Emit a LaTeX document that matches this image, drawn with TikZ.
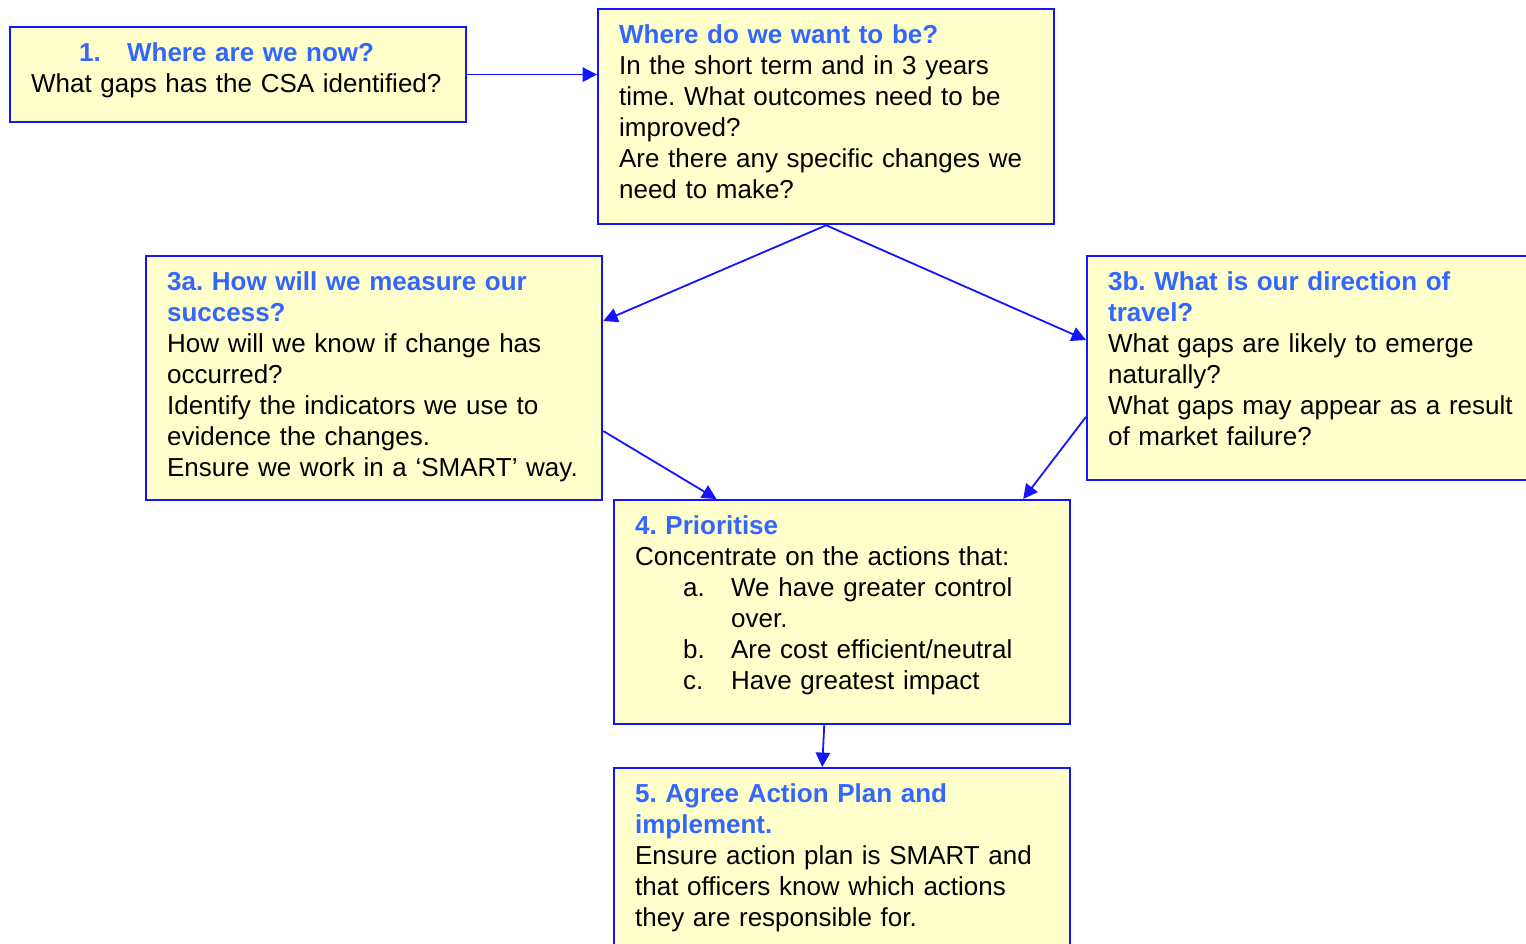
\documentclass[tikz,border=0pt]{standalone}
\usepackage{fontspec}
\setmainfont{Liberation Sans}
\usetikzlibrary{
	arrows.meta,
	positioning,
	calc,
}
\definecolor{panelfill}{RGB}{255,255,204}
\definecolor{panelline}{RGB}{20,20,255}
\definecolor{headblue}{RGB}{51,102,255}
\newcommand{\qhead}[1]{{\bfseries\color{headblue}#1}}
\frenchspacing
\hyphenpenalty=10000
\tikzset{panel/.style={
		% The shape:
		rectangle,anchor=north west,
		% The size:
		minimum width=202.67pt,text width=184pt,
		inner xsep=9.33pt,inner ysep=6.11pt,
		% The border and filling:
		line width=1pt,draw=panelline,fill=panelfill,
		% first line sits at the top, the rest hangs below
		align=left,text height=9pt,text depth=#1,
		font=\fontsize{11.55pt}{13.78pt}\selectfont,
}}
\tikzset{flow/.style={
		line width=0.8pt,draw=panelline,
		-{Triangle[length=6.4pt,width=6.4pt]},
}}

\begin{document}
\begin{tikzpicture}[x=0.4444pt,y=-0.4444pt]
	\useasboundingbox (0,0) rectangle (1526,944);
	\node [panel=20.98pt] (q1) at (9,26)
		{\qhead{\hspace*{21.33pt}\makebox[21.33pt][l]{1.}Where are we now?}\\
		What gaps has the CSA identified?};
	\node [panel=74.34pt] (q2) at (597,8)
		{\qhead{Where do we want to be?}\\
		In the short term and in 3 years\\
		time. What outcomes need to be\\
		improved?\\
		Are there any specific changes we\\
		need to make?};
	\node [panel=87.22pt] (q3a) at (145,255)
		{\qhead{3a. How will we measure our}\\
		\qhead{success?}\\
		How will we know if change has\\
		occurred?\\
		Identify the indicators we use to\\
		evidence the changes.\\
		Ensure we work in a ‘SMART’ way.};
	\node [panel=78.33pt] (q3b) at (1086,255)
		{\qhead{3b. What is our direction of}\\
		\qhead{travel?}\\
		What gaps are likely to emerge\\
		naturally?\\
		What gaps may appear as a result\\
		of market failure?};
	\node [panel=78.33pt] (q4) at (613,499)
		{\qhead{4. Prioritise}\\
		Concentrate on the actions that:\\
		\hspace*{21.33pt}\makebox[21.33pt][l]{a.}We have greater control\\
		\hspace*{42.67pt}over.\\
		\hspace*{21.33pt}\makebox[21.33pt][l]{b.}Are cost efficient/neutral\\
		\hspace*{21.33pt}\makebox[21.33pt][l]{c.}Have greatest impact};
	\node [panel=78.33pt] (q5) at (613,767)
		{\qhead{5. Agree Action Plan and}\\
		\qhead{implement.}\\
		Ensure action plan is SMART and\\
		that officers know which actions\\
		they are responsible for.};
	% connectors
	\draw [flow] (q1.east) -- (q1.east -| q2.west);
	\draw [flow] (q2.south) -- (q3a.14);
	\draw [flow] (q2.south) -- (q3b.173);
	\draw [flow] (q3a.-13) -- (q4.138);
	\draw [flow] (q3b.-168) -- (q4.32);
	\draw [flow] (q4.261) -- (q5.100);
\end{tikzpicture}
\end{document}
